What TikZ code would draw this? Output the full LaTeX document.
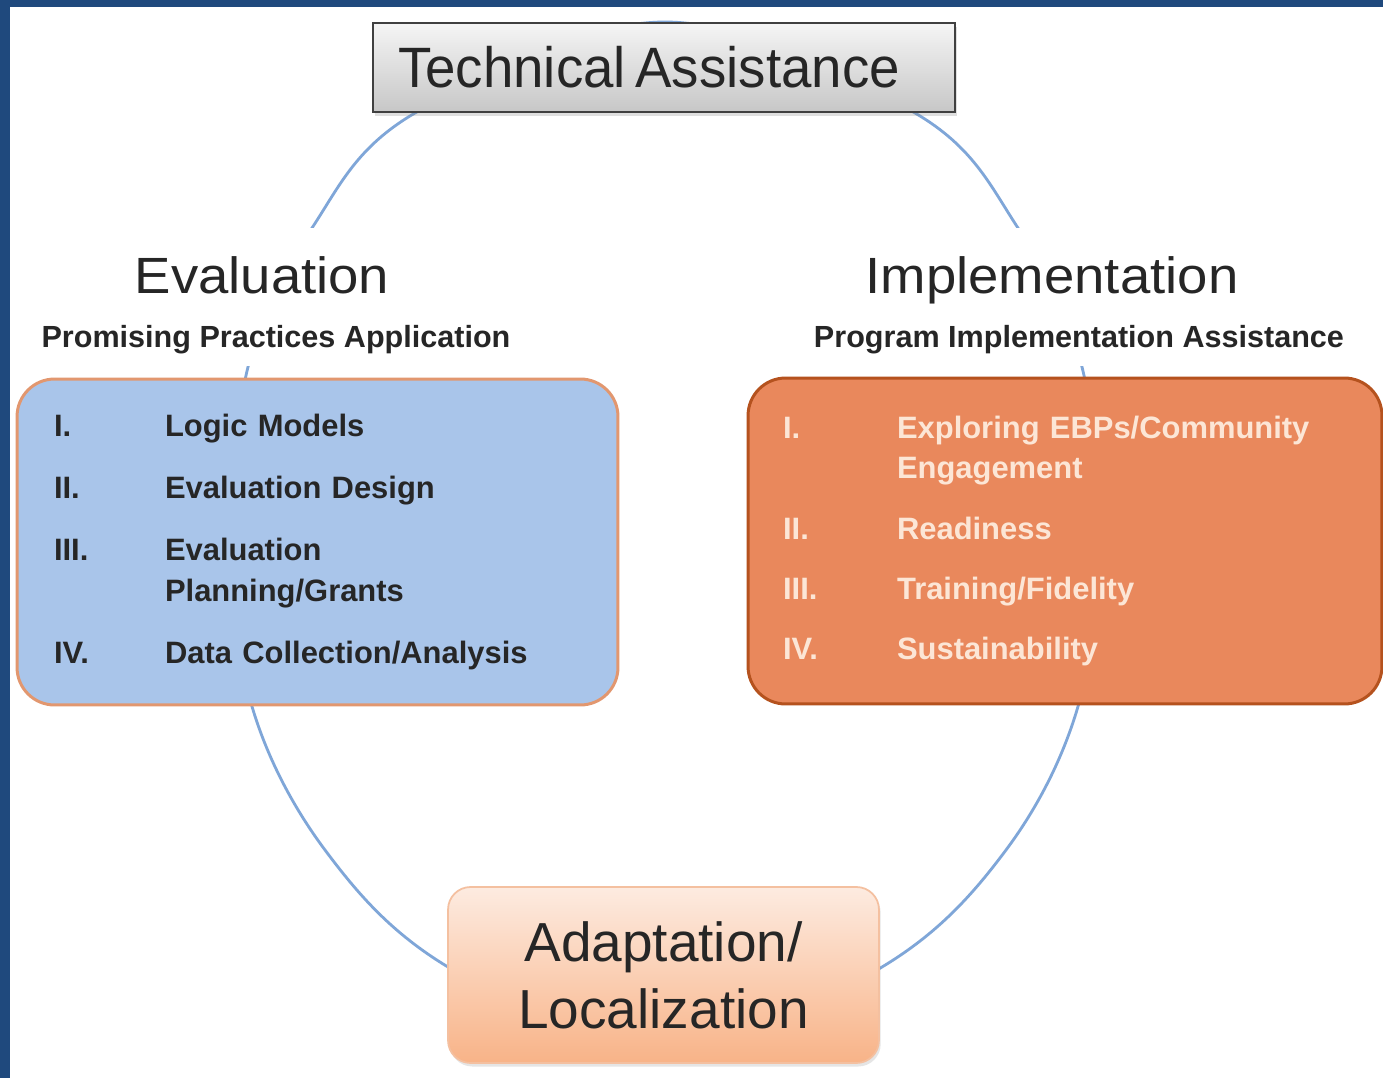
\documentclass[tikz,border=0pt]{standalone}
\usepackage{fontspec}
\setmainfont{Liberation Sans}
\newfontfamily\widesans{Liberation Sans}[FakeStretch=1.07]
\newfontfamily\narrowsans{Liberation Sans}[FakeStretch=0.96]
\usetikzlibrary{positioning, calc, shadows}

\definecolor{framenavy}{HTML}{1F497D}
\definecolor{ringblue}{HTML}{7FA6D8}
\definecolor{evalfill}{HTML}{A9C5EA}
\definecolor{evaledge}{HTML}{E2976F}
\definecolor{implfill}{HTML}{E9885C}
\definecolor{impledge}{HTML}{B5521E}
\definecolor{impltext}{HTML}{FCE6D6}
\definecolor{adapttop}{HTML}{FDEBE0}
\definecolor{adaptbot}{HTML}{F8B388}
\definecolor{adaptedge}{HTML}{F4C0A0}
\definecolor{inkgray}{HTML}{262626}

\begin{document}
\begin{tikzpicture}[x=0.02cm, y=-0.02cm,
    ring/.style={draw=ringblue, line width=1.6pt},
    headbox/.style={draw=black!75, line width=1.2pt, top color=black!4, bottom color=black!22,
        minimum height=1.78cm, text width=10.64cm, inner xsep=0.5cm, align=left, text=inkgray,
        font=\narrowsans\fontsize{32.4}{38}\selectfont,
        drop shadow={opacity=0.25, shadow xshift=1pt, shadow yshift=-2pt}},
    sidetitle/.style={fill=white, text=inkgray, font=\widesans\fontsize{29}{34}\selectfont,
        text height=21.5pt, text depth=6pt, inner xsep=6pt, inner ysep=15.5pt},
    sidesub/.style={fill=white, text=inkgray, font=\bfseries\fontsize{17.4}{21}\selectfont,
        text height=13pt, text depth=4pt, inner xsep=4pt, inner ysep=7pt},
    listbox/.style={rounded corners=0.75cm, line width=1.7pt, minimum height=6.52cm,
        align=left, font=\bfseries\fontsize{17.6}{22.8}\selectfont},
    adaptbox/.style={draw=adaptedge, line width=1pt, rounded corners=0.45cm,
        top color=adapttop, bottom color=adaptbot, minimum width=8.62cm, minimum height=3.52cm,
        align=center, text=black!85, font=\fontsize{31.3}{38}\selectfont,
        drop shadow={opacity=0.2, shadow xshift=1pt, shadow yshift=-2pt}}
]
% page and frame
\useasboundingbox (0,0) rectangle (1383,1078);
\fill[white] (0,0) rectangle (1383,1078);
\fill[framenavy] (0,0) rectangle (10,1078);
\fill[framenavy] (0,0) rectangle (1383,7);

% cycle ring behind everything
\draw[ring] plot[smooth cycle, tension=0.6] coordinates {
    (665,22) (915,113) (1018,228) (1082,367) (1095,535) (1079,703) (1006,850) (882,967)
    (665,1055) (448,967) (325,850) (251,703) (235,535) (248,367) (312,228) (415,113)};

% Top node
\node (ta) [headbox] at (664,67.5) {Technical\hspace{0.17em}Assistance};

% Left side
\node (evaltitle) [sidetitle, anchor=base] at (262,293) {Evaluation};
\node (evalsub) [sidesub, anchor=base] at ($(evaltitle.base)+(14,54)$) {Promising Practices Application};
\node (evalbox) [listbox, draw=evaledge, fill=evalfill, text=inkgray, text width=10.54cm, inner xsep=0.74cm]
    at (317.5,542) {%
    \begin{tabular}{@{}p{2.22cm}@{}l@{}}
    I. & Logic Models\\[12.5pt]
    II. & Evaluation Design\\[12.5pt]
    III. & Evaluation\\
     & Planning/Grants\\[12.5pt]
    IV. & Data Collection/Analysis
    \end{tabular}};

% Right side
\node (impltitle) [sidetitle, anchor=base] at (1052,293) {Implementation};
\node (implsub) [sidesub, anchor=base] at ($(impltitle.base)+(27,54)$) {Program Implementation Assistance};
\node (implbox) [listbox, draw=impledge, fill=implfill, text=impltext, text width=11.28cm, inner xsep=0.70cm]
    at (1065,541) {%
    \begin{tabular}{@{}p{2.28cm}@{}l@{}}
    I. & Exploring EBPs/Community\\
     & Engagement\\[11.4pt]
    II. & Readiness\\[11.4pt]
    III. & Training/Fidelity\\[11.4pt]
    IV. & Sustainability
    \end{tabular}};

% Bottom node
\node (adapt) [adaptbox] at (663.5,975) {Adaptation/\\Localization};

\end{tikzpicture}
\end{document}
